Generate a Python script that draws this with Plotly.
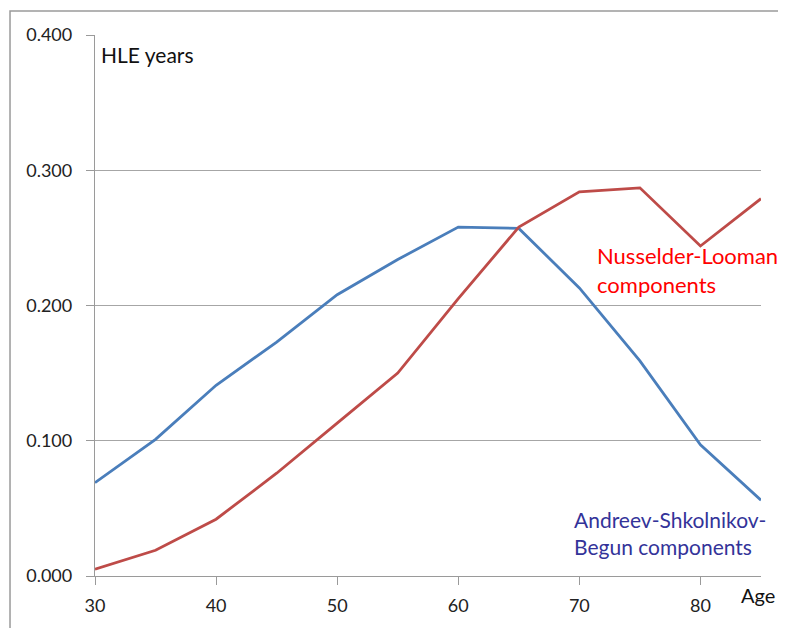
import plotly.graph_objects as go

ages = [30, 35, 40, 45, 50, 55, 60, 65, 70, 75, 80, 85]
andreev = [0.069, 0.101, 0.141, 0.173, 0.208, 0.234, 0.258, 0.257, 0.213, 0.159, 0.097, 0.056]
nusselder = [0.005, 0.019, 0.042, 0.076, 0.113, 0.150, 0.205, 0.258, 0.284, 0.287, 0.244, 0.279]
x_ticks = [30, 40, 50, 60, 70, 80]
y_ticks = [0.0, 0.1, 0.2, 0.3, 0.4]
y_tick_text = ["0.000", "0.100", "0.200", "0.300", "0.400"]

FONT = "Lato, 'Open Sans', sans-serif"

fig = go.Figure()
fig.add_trace(go.Scatter(x=ages, y=andreev, mode="lines",
                         line=dict(color="#4A7EBB", width=2.8), showlegend=False))
fig.add_trace(go.Scatter(x=ages, y=nusselder, mode="lines",
                         line=dict(color="#BE4B48", width=2.8), showlegend=False))

fig.update_layout(
    width=778, height=620,
    margin=dict(l=87, r=25, t=27, b=50),
    paper_bgcolor="white", plot_bgcolor="white",
    font=dict(family=FONT, size=17, color="#222222"),
    xaxis=dict(range=[30, 85], tickvals=x_ticks, ticktext=[str(v) for v in x_ticks],
               showgrid=False, zeroline=False, showline=True, linecolor="#9a9a9a",
               linewidth=1.3, ticks="outside", ticklen=8, tickcolor="#9a9a9a",
               ticklabelstandoff=5,
               tickfont=dict(size=18, color="#222222")),
    yaxis=dict(range=[0, 0.4], tickvals=y_ticks, ticktext=y_tick_text,
               showgrid=True, gridcolor="#a6a6a6", gridwidth=1.2, zeroline=False,
               showline=True, linecolor="#9a9a9a", linewidth=1.3,
               ticks="outside", ticklen=8, tickcolor="#9a9a9a",
               ticklabelstandoff=10,
               tickfont=dict(size=18, color="#222222")),
)

# outer chart border
fig.add_shape(type="rect", xref="paper", yref="paper",
              x0=-0.1276, x1=1.2, y0=-0.3, y1=1.0442,
              line=dict(color="#9a9a9a", width=1.5), layer="below")

fig.add_annotation(x=30, y=0.3855, xref="x", yref="y", text="HLE years",
                   showarrow=False, xanchor="left", xshift=4,
                   font=dict(size=21, color="#111111"))
fig.add_annotation(x=85, y=0, xref="x", yref="y", text="Age",
                   showarrow=False, xanchor="center", yanchor="middle", yshift=-19,
                   xshift=-3, font=dict(size=20, color="#111111"))
fig.add_annotation(x=71.29, y=0.226, xref="x", yref="y",
                   text="Nusselder-Looman<br>components",
                   showarrow=False, xanchor="left", align="left",
                   font=dict(size=22, color="#FF0000"))
fig.add_annotation(x=69.39, y=0.0318, xref="x", yref="y",
                   text="Andreev-Shkolnikov-<br>Begun components",
                   showarrow=False, xanchor="left", align="left",
                   font=dict(size=21, color="#333399"))

fig.write_html("out.html")
